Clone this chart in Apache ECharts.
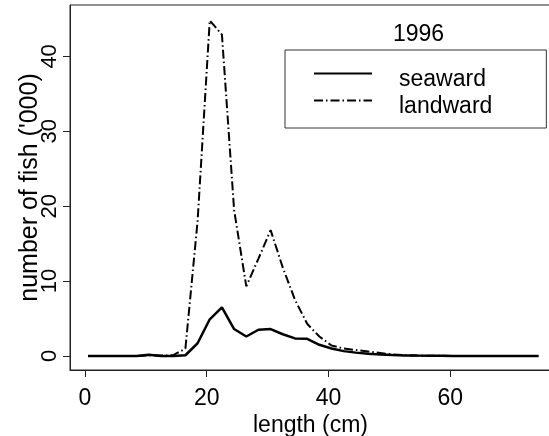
<!DOCTYPE html>
<html>
<head>
<meta charset="utf-8">
<title>1996 length distribution</title>
<script src="https://cdn.jsdelivr.net/npm/echarts@6/dist/echarts.min.js"></script>
<style>
  html, body { margin: 0; padding: 0; background: #fff; }
  #main { width: 549px; height: 436px; }
</style>
</head>
<body>
<div id="main"></div>
<script>
// length classes (cm), bin centres
var lengths = [0.5, 2.5, 4.5, 6.5, 8.5, 10.5, 12.5, 14.5, 16.5, 18.5,
               20.5, 22.5, 24.5, 26.5, 28.5, 30.5, 32.5, 34.5, 36.5, 38.5,
               40.5, 42.5, 44.5, 46.5, 48.5, 50.5, 52.5, 54.5, 56.5, 58.5,
               60.5, 62.5, 64.5, 66.5, 68.5, 70.5, 72.5, 74.5];
// number of fish ('000)
var seaward = [0, 0, 0, 0, 0, 0.15, 0, 0, 0.1, 1.7,
               4.9, 6.5, 3.6, 2.6, 3.5, 3.6, 2.9, 2.35, 2.3, 1.5,
               1.0, 0.65, 0.45, 0.3, 0.2, 0.12, 0.08, 0.05, 0.03, 0.02,
               0.01, 0, 0, 0, 0, 0, 0, 0];
var landward = [0, 0, 0, 0, 0, 0.1, 0.05, 0.1, 1.0, 18,
                44.8, 42.9, 19.5, 9.3, 13, 16.8, 11.8, 7.5, 4.3, 2.6,
                1.4, 1.0, 0.8, 0.6, 0.4, 0.2, 0.1, 0.05, 0.03, 0.02,
                0, 0, 0, 0, 0, 0, 0, 0];
var xTicks = [0, 20, 40, 60];
var yTicks = [0, 10, 20, 30, 40];

function pairs(ys) {
    return lengths.map(function (x, i) { return [x, ys[i]]; });
}

var font = 'Liberation Sans, Arial, sans-serif';
var chart = echarts.init(document.getElementById('main'));

chart.setOption({
    animation: false,
    backgroundColor: '#fff',
    textStyle: { fontFamily: font, color: '#000' },
    title: {
        text: '1996',
        left: 393,
        top: 23,
        padding: 0,
        textStyle: { fontFamily: font, fontSize: 23, fontWeight: 'normal', color: '#000' }
    },
    legend: {
        orient: 'vertical',
        left: 285,
        top: 50,
        padding: [6, 54, 10, 28],
        itemWidth: 58,
        itemHeight: 14,
        itemGap: -8,
        backgroundColor: '#fff',
        borderColor: '#333',
        borderWidth: 1,
        borderRadius: 0,
        data: ['seaward', 'landward'],
        itemStyle: { opacity: 0 },
        // empty first line pushes the label a little below the line sample
        formatter: function (name) { return '{s| }\n{t|' + name + '}'; },
        textStyle: {
            fontFamily: font, fontSize: 23, color: '#000', padding: [0, 0, 0, 22],
            rich: {
                s: { fontSize: 1, lineHeight: 12, height: 12 },
                t: { fontFamily: font, fontSize: 23, lineHeight: 23, color: '#000' }
            }
        }
    },
    grid: {
        left: 70, right: -2, top: 5, bottom: 66,
        show: true, borderColor: '#222', borderWidth: 1,
        outerBoundsMode: 'none',
        containLabel: false
    },
    xAxis: {
        type: 'value',
        min: -2.46,
        max: 76.56,
        name: 'length (cm)',
        nameLocation: 'middle',
        nameGap: 44,
        nameMoveOverlap: false,
        nameTextStyle: { fontFamily: font, fontSize: 23, color: '#000' },
        axisLine: { show: true, onZero: false, lineStyle: { color: '#222', width: 1 } },
        axisTick: { show: true, length: 7, customValues: xTicks, lineStyle: { color: '#222' } },
        axisLabel: { customValues: xTicks, margin: 17, fontFamily: font, fontSize: 23, color: '#000' },
        splitLine: { show: false }
    },
    yAxis: {
        type: 'value',
        min: -1.87,
        max: 46.86,
        name: "number of fish ('000)",
        nameLocation: 'middle',
        nameGap: 27,
        nameMoveOverlap: false,
        nameTextStyle: { fontFamily: font, fontSize: 25, color: '#000' },
        axisLine: { show: true, onZero: false, lineStyle: { color: '#222', width: 1 } },
        axisTick: { show: true, length: 7, customValues: yTicks, lineStyle: { color: '#222' } },
        axisLabel: { customValues: yTicks, rotate: 90, margin: 9, fontFamily: font, fontSize: 22, color: '#000' },
        splitLine: { show: false }
    },
    series: [
        {
            name: 'seaward',
            type: 'line',
            symbol: 'none',
            data: pairs(seaward),
            lineStyle: { color: '#000', width: 2.5, type: 'solid' },
            itemStyle: { color: '#000' },
            z: 3
        },
        {
            name: 'landward',
            type: 'line',
            symbol: 'none',
            data: pairs(landward),
            lineStyle: { color: '#000', width: 2, type: [9, 3, 1.5, 3] },
            itemStyle: { color: '#000' },
            z: 2
        }
    ]
});
</script>
</body>
</html>
